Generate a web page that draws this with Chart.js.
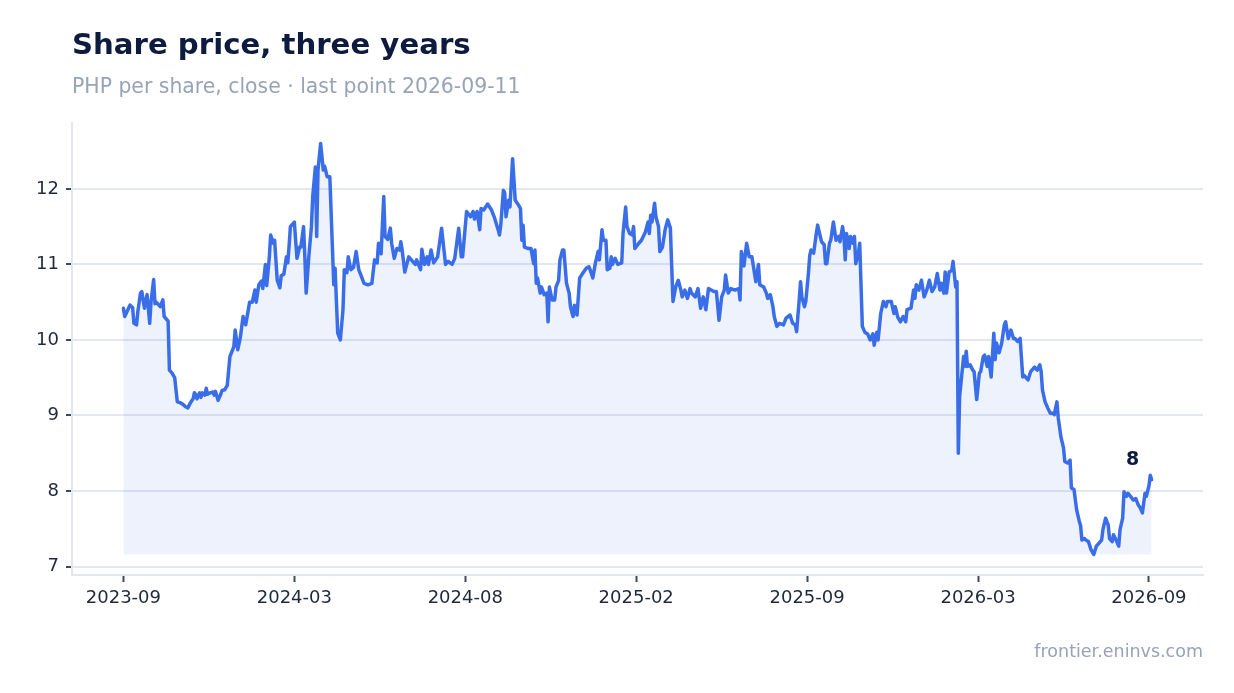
<!DOCTYPE html>
<html lang="en">
<head>
    <meta charset="UTF-8">
    <title>Share price, three years</title>
    <style>
        html, body{
            margin: 0;
            padding: 0;
            background: #fff;
        }
        body{
            width: 1234px;
            height: 693px;
            position: relative;
            overflow: hidden;
            font-family: "DejaVu Sans", sans-serif;
        }
        #titel{
            position: absolute;
            left: 72px;
            top: 30px;
            margin: 0;
            font-size: 29.2px;
            line-height: 29px;
            font-weight: bold;
            color: #0d1b3e;
            white-space: nowrap;
        }
        #untertitel{
            position: absolute;
            left: 72px;
            top: 76px;
            margin: 0;
            font-size: 20.4px;
            line-height: 20px;
            color: #97a3b8;
            white-space: nowrap;
        }
        #quelle{
            position: absolute;
            right: 31px;
            top: 643px;
            margin: 0;
            font-size: 17.5px;
            line-height: 17px;
            color: #97a3b8;
        }
        #diagramm{
            position: absolute;
            left: 0;
            top: 0;
        }
    </style>
</head>
<body>
    <canvas id="diagramm" width="1234" height="693"></canvas>
    <h1 id="titel">Share price, three years</h1>
    <p id="untertitel">PHP per share, close · last point 2026-09-11</p>
    <p id="quelle">frontier.eninvs.com</p>

    <script src="https://cdn.jsdelivr.net/npm/chart.js"></script>
    <script>
        // trading day (0 = first close) and closing price
        const days = [0,1,5,7,8,10,11,13,14,16,18,20,21,23,24,25,28,30,31,34,35,37,39,41,43,45,47,49,51,53,54,55,56,57,58,59,60,62,63,64,66,68,69,70,72,74,75,77,79,81,84,85,87,89,91,93,96,98,
            100,101,103,105,106,108,109,111,112,114,115,117,119,120,122,124,125,126,127,130,132,134,135,137,138,139,141,143,144,146,147,148,150,152,153,155,157,158,160,161,163,165,167,168,170,171,173,175,177,179,181,183,186,189,191,193,194,196,198,199,
            201,203,204,206,208,210,211,212,214,217,219,222,223,226,227,229,231,232,234,236,239,242,245,247,250,252,255,257,258,261,264,266,267,269,271,272,274,277,280,282,285,286,287,289,290,291,293,294,296,298,
            300,302,303,304,305,308,310,312,313,314,315,317,318,320,322,323,324,326,328,329,331,332,334,335,337,339,340,342,343,345,346,347,350,352,354,355,357,359,361,362,364,365,367,368,370,371,372,374,376,379,380,382,383,385,387,388,389,392,394,397,399,
            400,401,402,404,405,407,408,410,412,414,416,417,418,420,422,424,425,427,429,431,432,435,437,439,441,443,445,447,449,451,453,455,457,458,460,462,465,468,469,470,472,474,476,478,481,483,484,487,489,490,492,494,495,497,499,
            502,504,507,509,511,512,514,515,516,518,519,521,522,523,525,526,527,528,530,531,533,534,535,537,538,540,542,544,545,547,548,549,550,552,553,555,556,557,559,560,562,564,566,568,570,571,573,574,576,578,580,581,584,586,587,589,591,593,595,596,599,
            601,602,603,605,607,609,611,613,615,617,619,621,622,624,625,626,628,630,631,633,634,635,636,639,640,641,642,644,646,647,649,651,652,654,655,657,658,660,662,663,664,666,668,670,671,673,675,677,678,680,682,684,685,688,690,693,695,697,698,699,
            701,703,705,707,708,710,711,713,715,716,718,720,721,723,725,727,728,729,731,732,734,736,738,740,742,744,745,747,749,750,752,753,755,757,758,760,761,763,764,766,768,770,772,773,775,776,777,778,780,781,782];
        const close = [10.42,10.31,10.46,10.43,10.22,10.2,10.38,10.62,10.64,10.42,10.6,10.22,10.5,10.8,10.48,10.5,10.44,10.53,10.31,10.25,9.6,9.56,9.5,9.18,9.17,9.15,9.12,9.1,9.17,9.22,9.3,9.28,9.22,9.26,9.3,9.24,9.3,9.27,9.36,9.28,9.3,9.31,9.27,9.32,9.2,9.28,9.33,9.34,9.4,9.78,9.91,10.13,9.87,10.04,10.31,10.2,10.5,10.5,
            10.66,10.5,10.73,10.78,10.68,11.0,10.72,11.1,11.39,11.28,11.32,10.79,10.69,10.85,10.87,11.1,11.02,11.24,11.5,11.56,11.08,11.23,11.23,11.5,11.1,10.62,11.1,11.5,11.9,12.29,11.37,12.25,12.6,12.25,12.3,12.16,12.16,11.68,10.73,10.95,10.09,10.0,10.4,10.93,10.89,11.1,10.93,10.96,11.17,10.93,10.84,10.75,10.73,10.75,11.06,11.02,11.28,11.14,11.9,11.37,
            11.33,11.48,11.28,11.08,11.21,11.19,11.3,11.19,10.9,11.1,11.06,11.0,11.06,10.93,11.2,11.0,11.1,11.0,11.19,11.02,11.1,11.48,11.0,11.04,11.0,11.08,11.48,11.1,11.1,11.7,11.63,11.7,11.6,11.7,11.46,11.74,11.72,11.8,11.72,11.63,11.46,11.39,11.52,11.98,11.95,11.63,11.85,11.76,12.4,11.85,
            11.8,11.74,11.32,11.52,11.23,11.21,11.21,11.01,11.19,10.75,10.82,10.62,10.7,10.6,10.62,10.24,10.7,10.53,10.53,10.7,10.79,11.06,11.19,11.19,10.75,10.62,10.44,10.31,10.46,10.33,10.57,10.82,10.9,10.95,10.97,10.93,10.82,11.02,11.17,11.06,11.46,11.32,11.32,10.93,10.95,11.1,11.0,11.08,11.0,11.02,11.41,11.76,11.5,11.41,11.39,11.5,11.21,11.28,11.32,11.43,11.56,
            11.41,11.65,11.56,11.81,11.63,11.5,11.17,11.23,11.46,11.59,11.48,10.98,10.51,10.7,10.79,10.66,10.57,10.66,10.55,10.68,10.62,10.57,10.68,10.42,10.57,10.4,10.68,10.66,10.64,10.64,10.26,10.57,10.66,10.86,10.62,10.68,10.66,10.68,10.53,11.17,10.98,11.28,11.1,11.1,10.77,11.0,10.73,10.7,10.62,10.55,10.6,10.44,10.31,10.18,10.22,
            10.2,10.29,10.33,10.22,10.2,10.11,10.53,10.77,10.57,10.44,10.51,10.88,11.12,11.19,11.15,11.28,11.41,11.52,11.37,11.3,11.26,11.01,11.01,11.28,11.32,11.56,11.32,11.37,11.3,11.5,11.37,11.06,11.41,11.21,11.37,11.28,11.37,11.01,11.15,11.28,10.18,10.1,10.08,10.0,10.08,9.93,10.1,10.0,10.35,10.51,10.44,10.51,10.51,10.35,10.44,10.3,10.24,10.31,10.24,10.4,10.42,
            10.66,10.55,10.73,10.66,10.79,10.57,10.66,10.79,10.64,10.7,10.88,10.66,10.75,10.62,10.9,10.62,10.9,10.92,11.04,10.7,10.77,8.5,9.25,9.78,9.65,9.85,9.65,9.67,9.6,9.58,9.21,9.56,9.58,9.78,9.8,9.65,9.78,9.51,10.09,9.74,9.96,9.83,9.96,10.2,10.24,10.02,10.13,10.02,10.02,9.98,10.02,9.51,9.53,9.47,9.58,9.64,9.6,9.67,9.58,9.34,
            9.18,9.1,9.03,9.03,9.01,9.18,8.97,8.72,8.57,8.39,8.37,8.41,8.04,8.02,7.75,7.6,7.54,7.35,7.37,7.35,7.33,7.22,7.16,7.27,7.31,7.35,7.49,7.64,7.55,7.37,7.33,7.42,7.35,7.27,7.49,7.64,7.99,7.93,7.97,7.93,7.88,7.9,7.81,7.79,7.71,7.84,7.97,7.93,8.07,8.21,8.15];

        const tickDays = [0, 130, 260, 390, 520, 650, 780];
        const tickLabels = ['2023-09', '2024-03', '2024-08', '2025-02', '2025-09', '2026-03', '2026-09'];
        const yTicks = [7, 8, 9, 10, 11, 12];

        const punkte = days.map((d, i) => ({x: d, y: close[i]}));
        const minWert = Math.min(...close);
        const maxWert = Math.max(...close);
        const yPad = (maxWert - minWert) * 0.05;
        const xPad = (days[days.length - 1] - days[0]) * 0.05;
        const letzter = close[close.length - 1];

        // Beschriftung am letzten Punkt
        const endLabel = {
            id: 'endLabel',
            afterDatasetsDraw(chart){
                const meta = chart.getDatasetMeta(0);
                const p = meta.data[meta.data.length - 1];
                const ctx = chart.ctx;
                ctx.save();
                ctx.font = 'bold 19px "DejaVu Sans"';
                ctx.fillStyle = '#0d1b3e';
                ctx.textAlign = 'center';
                ctx.textBaseline = 'middle';
                ctx.fillText(String(Math.round(letzter)), p.x - 19, p.y - 20);
                ctx.restore();
            }
        };

        const tickFont = {family: '"DejaVu Sans"', size: 18};

        new Chart(document.getElementById('diagramm'), {
            type: 'line',
            data: {
                datasets: [{
                    data: punkte,
                    borderColor: '#3a6ee8',
                    borderWidth: 3.5,
                    backgroundColor: 'rgba(58, 110, 232, 0.09)',
                    fill: {value: minWert},
                    pointRadius: 0,
                    tension: 0,
                    borderJoinStyle: 'round',
                    borderCapStyle: 'round'
                }]
            },
            options: {
                responsive: false,
                animation: false,
                devicePixelRatio: 1,
                layout: {padding: {top: 123, right: 31, left: 0, bottom: 0}},
                plugins: {
                    legend: {display: false},
                    tooltip: {enabled: false}
                },
                scales: {
                    x: {
                        type: 'linear',
                        min: days[0] - xPad,
                        max: days[days.length - 1] + xPad,
                        afterBuildTicks: s => { s.ticks = tickDays.map(v => ({value: v})); },
                        afterFit: s => { s.height = 118; },
                        ticks: {
                            callback: v => tickLabels[tickDays.indexOf(v)],
                            font: tickFont,
                            color: '#1e293b',
                            padding: 6,
                            maxRotation: 0,
                            autoSkip: false
                        },
                        grid: {
                            drawOnChartArea: false,
                            tickLength: 7,
                            tickColor: '#3f4a5c',
                            tickWidth: 2
                        },
                        border: {color: '#e3e8f0', width: 2}
                    },
                    y: {
                        min: minWert - yPad,
                        max: maxWert + yPad,
                        afterBuildTicks: s => { s.ticks = yTicks.map(v => ({value: v})); },
                        afterFit: s => { s.width = 72; },
                        ticks: {
                            font: tickFont,
                            color: '#1e293b',
                            padding: 7
                        },
                        grid: {
                            color: '#e3e8f0',
                            lineWidth: 2,
                            tickLength: 6,
                            tickColor: '#3f4a5c',
                            tickWidth: 2
                        },
                        border: {color: '#e3e8f0', width: 2}
                    }
                }
            },
            plugins: [endLabel]
        });
    </script>
</body>
</html>
